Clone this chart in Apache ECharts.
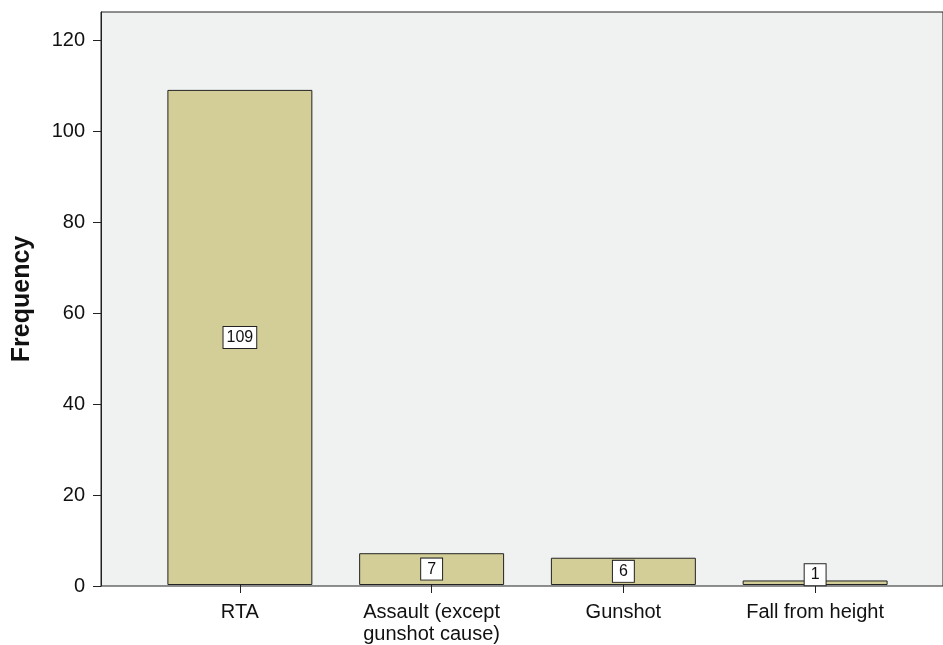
<!DOCTYPE html>
<html>
<head>
<meta charset="utf-8">
<script src="https://cdn.jsdelivr.net/npm/echarts@6/dist/echarts.min.js"></script>
<style>
html,body{margin:0;padding:0;background:#fff;}
#c{width:943px;height:645px;}
</style>
</head>
<body>
<div id="c"></div>
<script>
var categories = ['RTA', 'Assault (except\ngunshot cause)', 'Gunshot', 'Fall from height'];
var frequencies = [109, 7, 6, 1];
var yTicks = [0, 20, 40, 60, 80, 100, 120];
var yMax = 126.3;
var FONT = '"Liberation Sans", Arial, sans-serif';

var chart = echarts.init(document.getElementById('c'), null, {renderer: 'canvas'});

var barData = frequencies.map(function (v) {
  var s = String(v);
  var lab = { padding: s.length > 1 ? [3, 3, 2, 3] : [3, 6, 2, 6] };
  if (v < 3) lab.offset = [0, -8];
  return { value: v, label: lab };
});

chart.setOption({
  animation: false,
  backgroundColor: '#ffffff',
  grid: [
    { left: 101, right: -5, top: 12, bottom: 59, show: true,
      backgroundColor: '#f0f1f1', borderColor: '#222', borderWidth: 1 },
    { left: 144, right: 32, top: 12.5, bottom: 57.8 }
  ],
  xAxis: [
    { gridIndex: 0, type: 'value', min: 0, max: 1, show: false },
    { gridIndex: 1, type: 'category', data: categories,
      axisLine: { show: false },
      axisTick: { show: true, alignWithLabel: true, length: 8,
        lineStyle: { color: '#222', width: 1 } },
      axisLabel: { fontSize: 20, lineHeight: 22, margin: 16, color: '#111',
        fontFamily: FONT, interval: 0 } }
  ],
  yAxis: [
    { gridIndex: 0, type: 'value', min: 0, max: yMax,
      splitLine: { show: false },
      axisLine: { show: true, lineStyle: { color: '#222', width: 1 } },
      axisTick: { show: true, length: 8, customValues: yTicks,
        lineStyle: { color: '#222', width: 1 } },
      axisLabel: { fontSize: 20, margin: 16, color: '#111', fontFamily: FONT,
        customValues: yTicks },
      name: 'Frequency', nameLocation: 'middle', nameGap: 66,
      nameTextStyle: { fontSize: 25, fontWeight: 'bold', color: '#111', fontFamily: FONT } },
    { gridIndex: 1, type: 'value', min: 0, max: yMax - 0.26, show: false }
  ],
  series: [{
    type: 'bar',
    xAxisIndex: 1,
    yAxisIndex: 1,
    barWidth: '75.6%',
    data: barData,
    itemStyle: { color: '#d3ce97', borderColor: '#222', borderWidth: 1 },
    label: {
      show: true, position: 'inside', fontSize: 16, color: '#111',
      fontFamily: FONT, backgroundColor: '#ffffff',
      borderColor: '#222', borderWidth: 1
    }
  }]
});
</script>
</body>
</html>
